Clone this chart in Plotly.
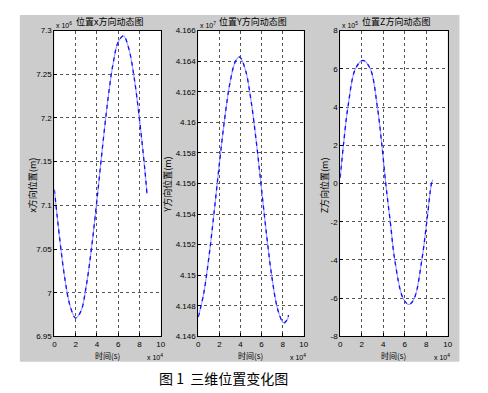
import plotly.graph_objects as go

# ---- data ----
t_x = [0, 0.5, 1.0, 1.5, 2.0, 2.5, 3.0, 3.5, 4.0, 4.5, 5.0, 5.5, 6.0, 6.5, 7.0, 7.5, 8.0, 8.5, 8.7]
pos_x = [7.118, 7.062, 7.015, 6.984, 6.971, 6.979, 7.008, 7.052, 7.106, 7.164, 7.218, 7.261,
         7.287, 7.294, 7.279, 7.246, 7.198, 7.141, 7.113]

t_y = [0, 0.5, 1.0, 1.5, 2.0, 2.5, 3.0, 3.5, 3.87, 4.0, 4.5, 5.0, 5.5, 6.0, 6.5, 7.0, 7.5, 8.0, 8.145, 8.5, 8.55]
pos_y = [4.14727, 4.14874, 4.15113, 4.15410, 4.15728, 4.16022, 4.16256, 4.16395, 4.16427, 4.16423,
         4.16336, 4.16144, 4.15875, 4.15562, 4.15251, 4.14979, 4.14785, 4.14694, 4.14689, 4.14719, 4.1474]

t_z = [0, 0.3, 0.72, 1.42, 2.12, 2.8, 3.46, 3.88, 4.24, 4.66, 5.08, 5.85, 6.4, 6.9, 7.6, 8.06, 8.5, 8.63]
pos_z = [0.3, 2, 4, 6, 6.44, 6, 4, 2, 0, -2, -4, -6, -6.33, -6, -4, -2, 0, 0.2]

x_ticks = [0, 2, 4, 6, 8, 10]
y1_ticks = [6.95, 7.0, 7.05, 7.1, 7.15, 7.2, 7.25, 7.3]
y1_labels = ["6.95", "7", "7.05", "7.1", "7.15", "7.2", "7.25", "7.3"]
y2_ticks = [4.146, 4.148, 4.150, 4.152, 4.154, 4.156, 4.158, 4.160, 4.162, 4.164, 4.166]
y2_labels = ["4.146", "4.148", "4.15", "4.152", "4.154", "4.156", "4.158", "4.16", "4.162", "4.164", "4.166"]
y3_ticks = [-8, -6, -4, -2, 0, 2, 4, 6, 8]

titles = ["位置x方向动态图", "位置Y方向动态图", "位置Z方向动态图"]
ylabels = ["x方向位置(m)", "Y方向位置(m)", "Z方向位置(m)"]
y_exps = ["6", "7", "5"]
xlabel = "时间(s)"
caption = "图 1  三维位置变化图"

W, H = 488, 393
OX, OY = 8, 8  # page body offset
def px(x):
    return (x - OX) / W
def py(y):
    return 1 - (y - OY) / H

fig = go.Figure()

series = [(t_x, pos_x), (t_y, pos_y), (t_z, pos_z)]
for i, (tt, vv) in enumerate(series):
    xa = "x" if i == 0 else f"x{i+1}"
    ya = "y" if i == 0 else f"y{i+1}"
    fig.add_trace(go.Scatter(x=tt, y=vv, mode="lines", xaxis=xa, yaxis=ya,
                             line=dict(color="#9a9aff", width=1.1, shape="spline"),
                             showlegend=False, hoverinfo="skip"))
    fig.add_trace(go.Scatter(x=tt, y=vv, mode="lines", xaxis=xa, yaxis=ya,
                             line=dict(color="#1010ff", width=1.3, shape="spline", dash="4px,4px"),
                             showlegend=False, hoverinfo="skip"))

doms_x = [(53, 161), (199, 306), (343, 452)]
y_dom = [py(340), py(27)]
y_ranges = [[6.95, 7.3], [4.146, 4.166], [-8, 8]]
y_tv = [y1_ticks, y2_ticks, y3_ticks]
y_tt = [y1_labels, y2_labels, [str(v) for v in y3_ticks]]

tickfont = dict(family="Liberation Sans, Arial", size=8, color="black")
axis_common = dict(showline=True, linecolor="black", linewidth=1, mirror=True,
                   ticks="inside", ticklen=3, tickcolor="black",
                   showgrid=True, gridcolor="#555555", griddash="dot", gridwidth=1,
                   zeroline=False, tickfont=tickfont)

for i in range(3):
    xk = "xaxis" if i == 0 else f"xaxis{i+1}"
    yk = "yaxis" if i == 0 else f"yaxis{i+1}"
    xa = "x" if i == 0 else f"x{i+1}"
    ya = "y" if i == 0 else f"y{i+1}"
    fig.layout[xk] = dict(domain=[px(doms_x[i][0]), px(doms_x[i][1])], range=[0, 10],
                          tickvals=x_ticks, ticktext=[str(v) for v in x_ticks],
                          anchor=ya, **axis_common)
    fig.layout[yk] = dict(domain=y_dom, range=y_ranges[i], tickvals=y_tv[i], ticktext=y_tt[i],
                          anchor=xa, **axis_common)

shapes = [dict(type="rect", xref="paper", yref="paper", x0=px(18), x1=px(464), y0=py(366), y1=py(11),
               fillcolor="#cccccc", line=dict(width=0), layer="below")]
for i in range(3):
    shapes.append(dict(type="rect", xref="paper", yref="paper",
                       x0=px(doms_x[i][0]), x1=px(doms_x[i][1]), y0=y_dom[0], y1=y_dom[1],
                       fillcolor="white", line=dict(width=0), layer="below"))

cjk = "Noto Sans CJK SC"
ann = []
ylab_x = [31, 168, 328]

def note(text, x, y, size, family, xanchor="center", angle=0):
    return dict(text=text, x=px(x), y=py(y), xref="paper", yref="paper",
                xanchor=xanchor, yanchor="middle", textangle=angle, showarrow=False,
                borderpad=0, font=dict(family=family, size=size, color="black"))

for i in range(3):
    x0, x1 = doms_x[i]
    cx = (x0 + x1) / 2
    ann.append(note(titles[i], cx + 2, 18, 9, cjk))
    ann.append(note("x 10<sup>" + y_exps[i] + "</sup>", x0 + 1, 21, 7, "Liberation Sans", xanchor="left"))
    ann.append(note(xlabel, cx, 360, 8, cjk))
    ann.append(note("x 10<sup>4</sup>", x1 + 3, 361, 7, "Liberation Sans", xanchor="right"))
    ann.append(note(ylabels[i], ylab_x[i], 185, 9, cjk, angle=-90))
ann.append(note(caption, 225, 383, 14, cjk))

fig.update_layout(width=W, height=H, margin=dict(l=0, r=0, t=0, b=0),
                  paper_bgcolor="white", plot_bgcolor="rgba(0,0,0,0)",
                  shapes=shapes, annotations=ann, showlegend=False)

fig.write_html("out.html")
